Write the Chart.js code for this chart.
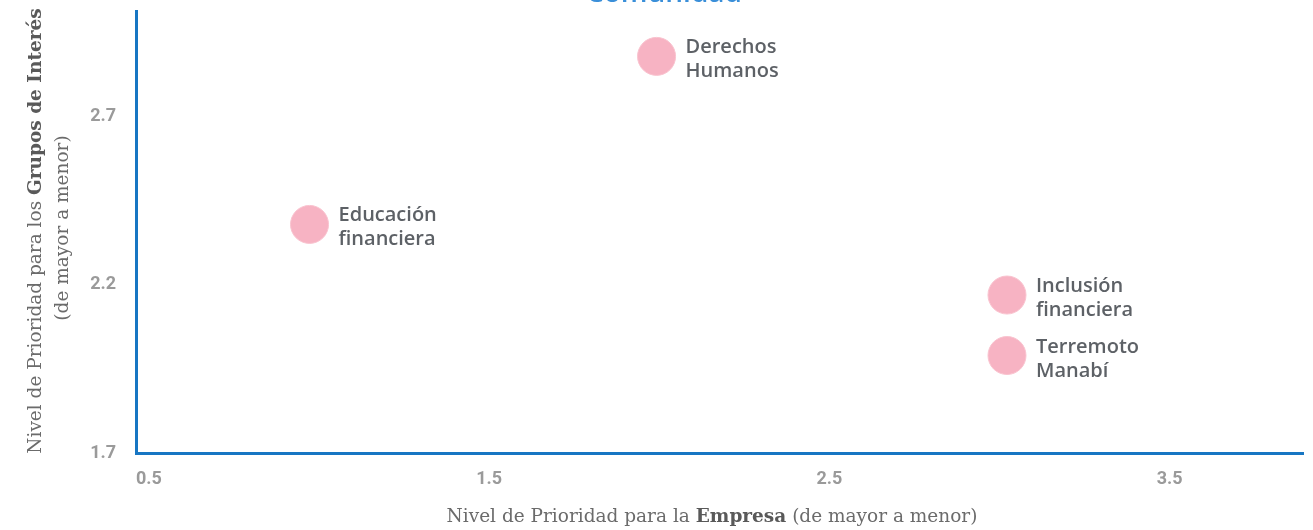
<!DOCTYPE html>
<html lang="es">
<head>
<meta charset="utf-8" />
<title>Comunidad - matriz de prioridad</title>
<script src="https://cdn.jsdelivr.net/npm/chart.js@4.4"></script>
<style>
  html,body{margin:0;padding:0;background:#fff;overflow:hidden;}
  #wrap{position:relative;width:1313px;height:530px;}
  #wrap canvas{position:absolute;left:0;top:0;}
  .title{position:absolute;left:664px;top:-25px;transform:translateX(-50%);font:600 28px 'Open Sans',sans-serif;color:#3a8fd9;white-space:nowrap;line-height:32px;}
  .axt{position:absolute;font:18.5px 'DejaVu Serif',serif;color:#6b6b6b;white-space:nowrap;line-height:22px;}
  .axt b{color:#595959;}
  .yt{transform:translate(-50%,-50%) rotate(-90deg);}
  .xt{transform:translate(-50%,-50%);}
</style>
</head>
<body>
<div id="wrap">
  <canvas id="c"></canvas>
  <div class="title">Comunidad</div>
  <div class="axt yt" style="left:35px;top:231px">Nivel de Prioridad para los <b>Grupos de Interés</b></div>
  <div class="axt yt" style="left:62px;top:228px">(de mayor a menor)</div>
  <div class="axt xt" style="left:712px;top:516px">Nivel de Prioridad para la <b>Empresa</b> (de mayor a menor)</div>
</div>
<script>
/***** data *****/
const TOPICS  =[['Educación','financiera'],['Derechos','Humanos'],['Inclusión','financiera'],['Terremoto','Manabí']];
const EMPRESA =[1.01,2.03,3.06,3.06];   // x: prioridad para la empresa
const GRUPOS  =[2.38,2.88,2.17,1.99];   // y: prioridad para grupos de interés
const X_TICKS =[0.5,1.5,2.5,3.5];
const Y_TICKS =[1.7,2.2,2.7];

const AXIS_BLUE='#1776c3';
const TICK_FONT={family:'Roboto',size:18,weight:'bold'};

// point labels drawn next to each bubble
const pointLabels={
  id:'pointLabels',
  afterDatasetsDraw(chart){
    const ctx=chart.ctx;
    const meta=chart.getDatasetMeta(0);
    ctx.save();
    ctx.font="600 20px 'Open Sans',sans-serif";
    ctx.fillStyle='#5d6166';
    ctx.textAlign='left';
    ctx.textBaseline='alphabetic';
    meta.data.forEach((pt,i)=>{
      const lines=TOPICS[i];
      ctx.fillText(lines[0],pt.x+29,pt.y-3);
      ctx.fillText(lines[1],pt.x+29,pt.y+21);
    });
    ctx.restore();
  }
};

// fixed plot box: left 136, right 1303, top 11, bottom 453
const noPad=s=>{s.paddingTop=0;s.paddingBottom=0;s.paddingLeft=0;s.paddingRight=0;};

new Chart(document.getElementById('c'),{
  type:'scatter',
  data:{datasets:[{
    data:EMPRESA.map((x,i)=>({x,y:GRUPOS[i]})),
    backgroundColor:'#f7b3c3',
    borderColor:'#f9c3cf',
    borderWidth:1,
    pointRadius:19,
    pointHoverRadius:19,
    clip:false
  }]},
  options:{
    responsive:true,maintainAspectRatio:false,animation:false,
    layout:{autoPadding:false,padding:{top:11,right:10,left:0,bottom:0}},
    plugins:{legend:{display:false},tooltip:{enabled:false}},
    scales:{
      x:{
        type:'linear',min:0.5,max:3.93,
        afterBuildTicks:s=>{s.ticks=X_TICKS.map(v=>({value:v}));},
        afterFit:s=>{s.height=77;noPad(s);},
        grid:{display:false,drawTicks:false},
        border:{display:true,color:AXIS_BLUE,width:3},
        ticks:{align:'start',padding:16,color:'#9a9a9a',font:TICK_FONT,callback:v=>v.toFixed(1),maxRotation:0}
      },
      y:{
        type:'linear',min:1.7,max:3.015,
        afterBuildTicks:s=>{s.ticks=Y_TICKS.map(v=>({value:v}));},
        afterFit:s=>{s.width=136;noPad(s);},
        grid:{display:false,drawTicks:false},
        border:{display:true,color:AXIS_BLUE,width:3},
        ticks:{padding:20,color:'#9a9a9a',font:TICK_FONT,callback:v=>v.toFixed(1)}
      }
    }
  },
  plugins:[pointLabels]
});
</script>
</body>
</html>
